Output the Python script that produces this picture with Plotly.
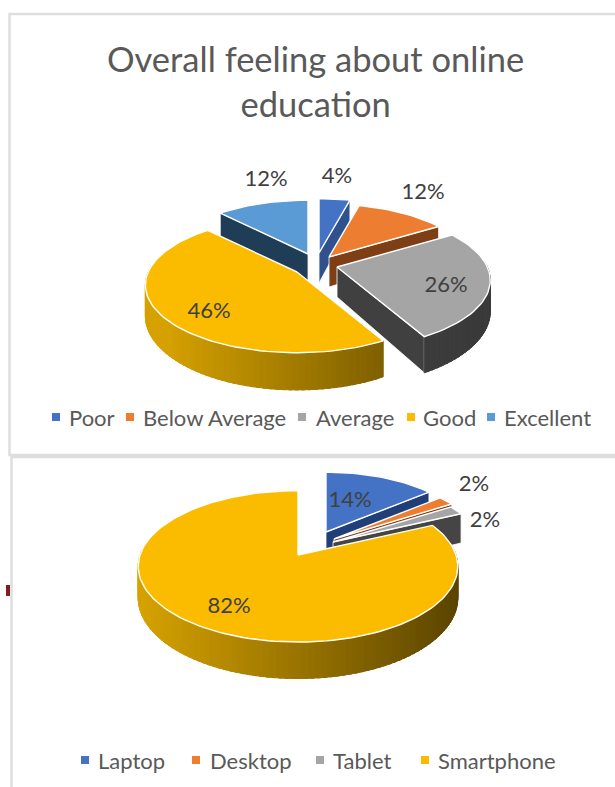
import math
import plotly.graph_objects as go

# ---- data ----
feeling_labels = ["Poor", "Below Average", "Average", "Good", "Excellent"]
feeling_values = [4, 12, 26, 46, 12]
device_labels = ["Laptop", "Desktop", "Tablet", "Smartphone"]
device_values = [14, 2, 2, 82]
title_text = "Overall feeling about online<br>education"

# ---- style ----
FONT = "Lato"
TEXT = "#595959"
LABEL = "#404040"
TOPS = ["#4472C4", "#ED7D31", "#A5A5A5", "#FBBC00", "#5B9BD5"]
DEVICE_TOPS = ["#4472C4", "#ED7D31", "#A5A5A5", "#FBBC00"]
FACES = ["#2F528F", "#7E3F16", "#404040", "#7F6000", "#203D57"]
DEVICE_FACES = ["#203F78", "#7E3F16", "#454545", "#7F6000"]
WALLS = [((47, 82, 143), (30, 55, 100)), ((126, 63, 22), (100, 50, 18)),
         ((74, 74, 74), (58, 58, 58)), ((214, 162, 0), (92, 69, 0)), ((32, 61, 87), (25, 50, 70))]

PIE1 = dict(cx=318, cy=262, R=155, ry=68, h=30, p=0.2,
            offsets=[(1, -9), (11, -5), (19, 5), (-21, 10), (-10, -8)],
            scale=[0.95, 0.92, 0.97, 0.96, 0.94],
            order=[0, 4, 1, 2, 3], tops=TOPS, faces=FACES,
            walls=WALLS,
            labels=[(337, 177), (423, 193), (446, 286), (209, 312), (266, 180)])
PIE2 = dict(cx=298, cy=555, R=158, ry=74, h=31, p=0.15,
            offsets=[(28, -23), (36, -16), (35, -13), (0, 0)],
            scale=[0.92, 0.95, 0.95, 1.0],
            order=[0, 1, 2, 3], tops=DEVICE_TOPS, faces=DEVICE_FACES,
            walls=[WALLS[0], WALLS[1], WALLS[2], WALLS[3]],
            labels=[(350, 501), (474, 485), (485, 521), (229, 607)])
LEGEND1 = dict(y=417, sq=[56, 130, 302, 411, 491], tx=[67, 141, 314, 421, 502])
LEGEND2 = dict(y=760, sq=[85, 196, 320, 425], tx=[96, 208, 331, 436])


def project(pie, off, deg, r=1.0, drop=0.0):
    a = math.radians(deg)
    v = r * math.cos(a)
    s = 1 / (1 + pie["p"] * v)
    x = pie["cx"] + off[0] + pie["R"] * r * math.sin(a) * s
    y = pie["cy"] + off[1] - pie["ry"] * r * math.cos(a) * s + drop * s
    return x, y


def poly(fig, pts, fill, line="#FFFFFF", width=1.0):
    xs = [p[0] for p in pts] + [pts[0][0]]
    ys = [p[1] for p in pts] + [pts[0][1]]
    fig.add_trace(go.Scatter(x=xs, y=ys, mode="lines", fill="toself", fillcolor=fill,
                             line=dict(color=line, width=width), hoverinfo="skip", showlegend=False))


def mix(c0, c1, t):
    return "rgb(%d,%d,%d)" % tuple(round(c0[i] + (c1[i] - c0[i]) * t) for i in range(3))


def draw_pie(fig, pie, values):
    total = sum(values)
    spans, start = [], 0.0
    for val in values:
        spans.append((start, start + 360.0 * val / total))
        start += 360.0 * val / total
    for i in pie["order"]:
        a0, a1 = spans[i]
        off = pie["offsets"][i]
        rr = pie["scale"][i]
        mid = (a0 + a1) / 2
        ax, ay = project(pie, off, 0, 0)
        mx, my = project(pie, off, mid, rr)
        # cut faces
        for edge in (a0, a1):
            rx, ry = project(pie, off, edge, rr)
            dx, dy = rx - ax, ry - ay
            if abs(dx) < 1e-6:
                continue
            if (dx * (my - ay) - dy * (mx - ax)) * dx < 0:
                poly(fig, [(ax, ay), (rx, ry), project(pie, off, edge, rr, pie["h"]),
                           project(pie, off, 0, 0, pie["h"])], pie["faces"][i], width=0.8)
        # outer wall, shaded left to right, overlapping strips to hide seams
        w0, w1 = max(a0, 85), min(a1, 275)
        if w1 > w0:
            n = max(2, int((w1 - w0) / 2))
            for k in range(n):
                b0 = w0 + (w1 - w0) * k / n
                b1 = w0 + (w1 - w0) * (k + 1) / n
                px, _ = project(pie, off, (b0 + b1) / 2, rr)
                t = min(1, max(0, (px - (pie["cx"] - pie["R"])) / (2 * pie["R"])))
                col = mix(pie["walls"][i][0], pie["walls"][i][1], t)
                b1x = min(w1, b1 + 1.0)
                poly(fig, [project(pie, off, b0, rr), project(pie, off, b1x, rr),
                           project(pie, off, b1x, rr, pie["h"]), project(pie, off, b0, rr, pie["h"])],
                     col, line=col, width=1.0)
        # top
        n = max(4, int((a1 - a0) / 2))
        rim = [project(pie, off, a0 + (a1 - a0) * k / n, rr) for k in range(n + 1)]
        poly(fig, [(ax, ay)] + rim, pie["tops"][i], width=1.4)
    # data labels
    fig.add_trace(go.Scatter(x=[p[0] for p in pie["labels"]], y=[p[1] for p in pie["labels"]],
                             mode="text", text=["%d%%" % v for v in values],
                             textfont=dict(family=FONT, size=22, color=LABEL),
                             hoverinfo="skip", showlegend=False))


def draw_legend(fig, leg, labels, colors):
    fig.add_trace(go.Scatter(x=leg["sq"], y=[leg["y"]] * len(labels), mode="markers",
                             marker=dict(symbol="square", size=8, color=colors),
                             hoverinfo="skip", showlegend=False))
    for x, lab in zip(leg["tx"], labels):
        fig.add_annotation(x=x, y=leg["y"], text=lab, showarrow=False, xanchor="left",
                           yanchor="middle", font=dict(family=FONT, size=22, color=TEXT))


fig = go.Figure()
draw_pie(fig, PIE1, feeling_values)
draw_pie(fig, PIE2, device_values)
draw_legend(fig, LEGEND1, feeling_labels, TOPS)
draw_legend(fig, LEGEND2, device_labels, DEVICE_TOPS)
fig.add_annotation(x=315, y=81, text=title_text, showarrow=False, xanchor="center", yanchor="middle",
                   font=dict(family=FONT, size=34.5, color=TEXT))

BORDER = dict(color="#DEDEDE", width=2.5)
fig.update_layout(
    width=615, height=787, autosize=False,
    margin=dict(l=0, r=0, t=0, b=0),
    paper_bgcolor="#FFFFFF", plot_bgcolor="#FFFFFF",
    xaxis=dict(range=[0, 615], visible=False, fixedrange=True),
    yaxis=dict(range=[787, 0], visible=False, fixedrange=True),
    showlegend=False,
    shapes=[
        dict(type="path", path="M 620 455 L 9.5 455 L 9.5 14 L 620 14", line=BORDER, layer="below"),
        dict(type="path", path="M 11.5 790 L 11.5 457 L 620 457", line=BORDER, layer="below"),
        dict(type="rect", x0=6, x1=10, y0=585, y1=596, fillcolor="#7B1F1F", line=dict(width=0), layer="below"),
    ],
)
fig.write_html("out.html", config=dict(displayModeBar=False),
               post_script="document.body.style.margin='0';document.body.style.overflow='hidden';")
